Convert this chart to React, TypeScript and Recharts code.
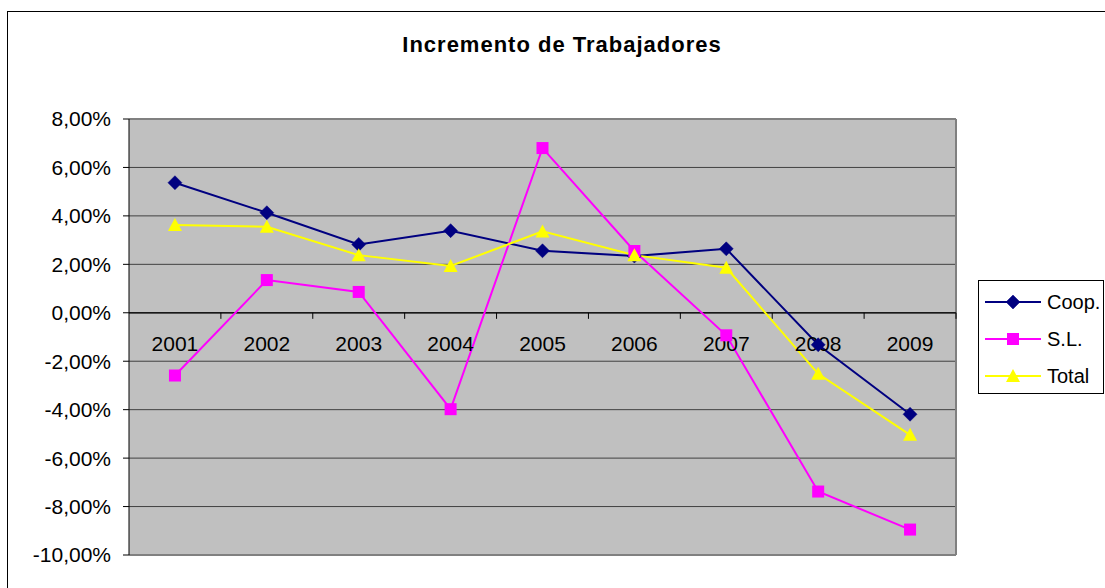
import React from 'react';
import { LineChart, Line, XAxis, YAxis, CartesianGrid, ReferenceLine, ReferenceDot, Legend } from 'recharts';

const years = ['2001', '2002', '2003', '2004', '2005', '2006', '2007', '2008', '2009'];
const coop = [5.37, 4.13, 2.82, 3.39, 2.56, 2.34, 2.64, -1.32, -4.19];
const sl = [-2.59, 1.35, 0.86, -3.98, 6.8, 2.55, -0.93, -7.38, -8.95];
const total = [3.62, 3.55, 2.38, 1.93, 3.36, 2.38, 1.86, -2.52, -5.04];
const yTicks = [-10, -8, -6, -4, -2, 0, 2, 4, 6, 8];

const data = years.map((y, i) => ({ x: i + 1, year: y, coop: coop[i], sl: sl[i], total: total[i] }));
const boundaries = years.map((_, i) => i + 1.5);

const FONT = '"Liberation Sans", Arial, sans-serif';
const NAVY = '#000080';
const MAGENTA = '#FF00FF';
const YELLOW = '#FFFF00';

const fmt = (v: number) => v.toFixed(2).replace('.', ',') + '%';

const Diamond = (p: any) => {
  const { cx, cy } = p;
  if (cx == null || cy == null) return <g key={p.index} />;
  return (
    <polygon key={p.index} points={`${cx},${cy - 7} ${cx + 7},${cy} ${cx},${cy + 7} ${cx - 7},${cy}`} fill={NAVY} stroke={NAVY} strokeWidth={0.5} />
  );
};
const Square = (p: any) => {
  const { cx, cy } = p;
  if (cx == null || cy == null) return <g key={p.index} />;
  return <rect key={p.index} x={cx - 6} y={cy - 6} width={12} height={12} fill={MAGENTA} />;
};
const Triangle = (p: any) => {
  const { cx, cy } = p;
  if (cx == null || cy == null) return <g key={p.index} />;
  return <polygon key={p.index} points={`${cx},${cy - 7} ${cx + 7},${cy + 6} ${cx - 7},${cy + 6}`} fill={YELLOW} />;
};

const shapeFor: Record<string, (p: any) => any> = { coop: Diamond, sl: Square, total: Triangle };

const LegendBox = (props: any) => {
  const payload = props.payload || [];
  return (
    <div style={{ width: 126, height: 114, boxSizing: 'border-box', border: '1px solid #000', background: '#fff' }}>
      <svg width={124} height={112} style={{ display: 'block' }}>
        {payload.map((e: any, i: number) => {
          const cy = 21 + 37 * i;
          const S = shapeFor[e.dataKey];
          return (
            <g key={e.dataKey}>
              <line x1={6} x2={62} y1={cy} y2={cy} stroke={e.color} strokeWidth={2} />
              {S({ cx: 34, cy, index: 'l' + i })}
              <text x={68} y={cy + 7} fontSize={20} fontFamily={FONT} fill="#000">{e.value}</text>
            </g>
          );
        })}
      </svg>
    </div>
  );
};

const YearLabel = (p: any) => (
  <text x={p.cx} y={p.cy + 38} textAnchor="middle" fontSize={21} fontFamily={FONT} fill="#000">
    {p.label}
  </text>
);

export default function App() {
  return (
    <div style={{ position: 'absolute', left: 7, top: 11, width: 1110, height: 590, border: '1px solid #000', background: '#fff', overflow: 'hidden' }}>
      <div style={{ position: 'absolute', left: 0, top: 21, width: 1108, textAlign: 'center', fontFamily: FONT, fontWeight: 'bold', fontSize: 22, letterSpacing: 1, lineHeight: '24px', color: '#000' }}>
        Incremento de Trabajadores
      </div>
      <LineChart width={1097} height={576} data={data} margin={{ top: 107, right: 149, bottom: 33, left: 0 }} style={{ fontFamily: FONT }}>
        <CartesianGrid horizontal vertical={false} stroke="#404040" fill="#C0C0C0" fillOpacity={1} />
        <XAxis dataKey="x" type="number" domain={[0.5, 9.5]} hide />
        <YAxis
          type="number"
          domain={[-10, 8]}
          ticks={yTicks}
          interval={0}
          width={121}
          tickSize={6}
          tickMargin={12}
          tickFormatter={fmt}
          axisLine={{ stroke: '#000' }}
          tickLine={{ stroke: '#000' }}
          tick={{ fill: '#000', fontSize: 21, fontFamily: FONT }}
        />
        <ReferenceLine y={8} stroke="#808080" strokeWidth={2} />
        <ReferenceLine y={-10} stroke="#808080" strokeWidth={2} />
        <ReferenceLine x={9.5} stroke="#808080" strokeWidth={2} />
        <ReferenceLine y={0} stroke="#000" strokeWidth={1.2} />
        {boundaries.map((b) => (
          <ReferenceLine key={'t' + b} segment={[{ x: b, y: 0 }, { x: b, y: -0.25 }]} stroke="#000" strokeWidth={1} />
        ))}
        {data.map((d) => (
          <ReferenceDot key={'l' + d.x} x={d.x} y={0} r={0} shape={(p: any) => <YearLabel {...p} label={d.year} />} />
        ))}
        <Line dataKey="coop" name="Coop." stroke={NAVY} strokeWidth={2} dot={Diamond} activeDot={false} isAnimationActive={false} />
        <Line dataKey="sl" name="S.L." stroke={MAGENTA} strokeWidth={2} dot={Square} activeDot={false} isAnimationActive={false} />
        <Line dataKey="total" name="Total" stroke={YELLOW} strokeWidth={2} dot={Triangle} activeDot={false} isAnimationActive={false} />
        <Legend layout="horizontal" align="center" verticalAlign="middle" content={<LegendBox />} wrapperStyle={{ left: 970, top: 268, width: 126, height: 114 }} />
      </LineChart>
    </div>
  );
}
